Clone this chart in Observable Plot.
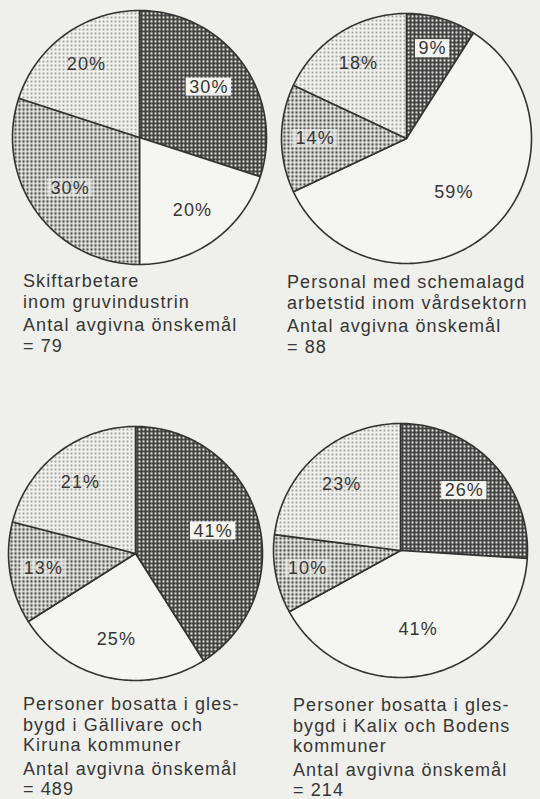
<!DOCTYPE html>
<html>
<head>
<meta charset="utf-8">
<script src="https://cdn.jsdelivr.net/npm/d3@7"></script>
<script src="https://cdn.jsdelivr.net/npm/@observablehq/plot@0.6"></script>
<style>
  html, body { margin: 0; padding: 0; background: #efefeb; }
  #wrap { position: relative; width: 540px; height: 799px; overflow: hidden; background: #efefeb; }
  .pie { position: absolute; }
  .cap { position: absolute; font-family: "Liberation Sans", Arial, sans-serif; font-size: 18px;
         letter-spacing: 1.1px; line-height: 20.5px; color: #363636; white-space: nowrap; }
  .cap .n { margin-top: 3px; }
</style>
</head>
<body>
<svg width="0" height="0" style="position:absolute">
  <defs>
    <pattern id="pDark" width="4" height="4" patternUnits="userSpaceOnUse">
      <rect width="4" height="4" fill="#3e3e3e"/>
      <circle cx="2" cy="2" r="1.15" fill="#f2f2ee"/>
    </pattern>
    <pattern id="pMedium" width="4" height="4" patternUnits="userSpaceOnUse">
      <rect width="4" height="4" fill="#f2f2ee"/>
      <circle cx="2" cy="2" r="1.4" fill="#555555"/>
    </pattern>
    <pattern id="pLight" width="4" height="4" patternUnits="userSpaceOnUse">
      <rect width="4" height="4" fill="#f2f2ee"/>
      <circle cx="2" cy="2" r="1.0" fill="#8c8c8c"/>
    </pattern>
  </defs>
</svg>
<div id="wrap"></div>
<script>
// ---- data ----
const slices = ["dark", "white", "medium", "light"];
const gruvindustrin = [30, 20, 30, 20];
const vardsektorn = [9, 59, 14, 18];
const gallivareKiruna = [41, 25, 13, 21];
const kalixBoden = [26, 41, 10, 23];
const captions = [
  ["Skiftarbetare", "inom gruvindustrin"],
  ["Personal med schemalagd", "arbetstid inom vårdsektorn"],
  ["Personer bosatta i gles-", "bygd i Gällivare och", "Kiruna kommuner"],
  ["Personer bosatta i gles-", "bygd i Kalix och Bodens", "kommuner"]
];
const countLabel = "Antal avgivna önskemål";
const counts = [79, 88, 489, 214];

// ---- layout ----
const series = [gruvindustrin, vardsektorn, gallivareKiruna, kalixBoden];
const layout = [
  {cx: 139, cy: 137, r: 127, capX: 23, capY: 271},
  {cx: 406, cy: 138, r: 125, capX: 287, capY: 272},
  {cx: 135, cy: 553, r: 127, capX: 23, capY: 694},
  {cx: 400, cy: 550, r: 127, capX: 293, capY: 695}
];
const fills = ["url(#pDark)", "#f5f5f2", "url(#pMedium)", "url(#pLight)"];
const font = "Liberation Sans, Arial, sans-serif";

const ctx = document.createElement("canvas").getContext("2d");
ctx.font = "18px " + font;
function textW(s) { return ctx.measureText(s).width + s.length * 1.1; }

const wrap = document.getElementById("wrap");

series.forEach((values, pi) => {
  const L = layout[pi];
  const total = d3.sum(values);
  const arcs = d3.pie().sort(null)(values);
  const pts = [];
  const labels = [];
  arcs.forEach((a, i) => {
    const key = slices[i];
    pts.push({slice: key, x: 0, y: 0});
    const steps = Math.max(2, Math.ceil((a.endAngle - a.startAngle) / (Math.PI / 180)));
    for (let k = 0; k <= steps; k++) {
      const t = a.startAngle + (a.endAngle - a.startAngle) * k / steps;
      pts.push({slice: key, x: Math.sin(t), y: Math.cos(t)});
    }
    pts.push({slice: key, x: 0, y: 0});
    const mid = (a.startAngle + a.endAngle) / 2;
    const rf = 0.78 - 0.35 * (a.value / total);
    const text = a.value + "%";
    const hw = (textW(text) / 2 + 3) / L.r;
    const hh = 9 / L.r;
    const lx = rf * Math.sin(mid), ly = rf * Math.cos(mid);
    labels.push({slice: key, text, x: lx, y: ly, x1: lx - hw, x2: lx + hw, y1: ly - hh, y2: ly + hh});
  });

  const pad = 3;
  const size = 2 * L.r + 2 * pad;
  const chart = Plot.plot({
    width: size, height: size,
    marginTop: pad, marginRight: pad, marginBottom: pad, marginLeft: pad,
    x: {domain: [-1, 1], axis: null},
    y: {domain: [-1, 1], axis: null},
    color: {domain: slices, range: fills},
    style: {background: "transparent", overflow: "visible", fontFamily: font, letterSpacing: "1.1px"},
    marks: [
      Plot.line(pts, {x: "x", y: "y", z: "slice", fill: "slice", stroke: "#333", strokeWidth: 1.6, strokeLinejoin: "round"}),
      Plot.rect(labels.filter(d => d.slice === "dark"), {x1: "x1", x2: "x2", y1: "y1", y2: "y2", fill: "#f4f4f0"}),
      Plot.rect(labels.filter(d => d.slice === "medium"), {x1: "x1", x2: "x2", y1: "y1", y2: "y2", fill: "#f4f4f0", fillOpacity: 0.55}),
      Plot.text(labels, {x: "x", y: "y", text: "text", fontSize: 18, fill: "#363636"})
    ]
  });
  chart.classList.add("pie");
  chart.style.left = (L.cx - L.r - pad) + "px";
  chart.style.top = (L.cy - L.r - pad) + "px";
  wrap.appendChild(chart);

  const cap = document.createElement("div");
  cap.className = "cap";
  cap.style.left = L.capX + "px";
  cap.style.top = L.capY + "px";
  captions[pi].forEach(line => {
    const d = document.createElement("div");
    d.textContent = line;
    cap.appendChild(d);
  });
  const n1 = document.createElement("div");
  n1.className = "n";
  n1.textContent = countLabel;
  cap.appendChild(n1);
  const n2 = document.createElement("div");
  n2.textContent = "= " + counts[pi];
  cap.appendChild(n2);
  wrap.appendChild(cap);
});
</script>
</body>
</html>
